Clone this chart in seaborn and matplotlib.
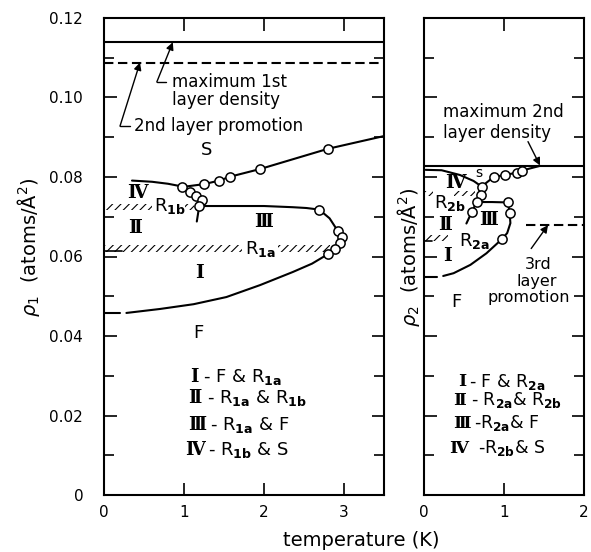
import matplotlib
matplotlib.use("Agg")
import matplotlib.pyplot as plt
import seaborn as sns

# ---------------- data: first layer (left panel) ----------------
max1_rho = 0.1139          # maximum 1st layer density
promo2_rho = 0.1088        # 2nd layer promotion
T1_IV_top = [0.35, 0.60, 0.80, 0.98]
rho1_IV_top = [0.0791, 0.0788, 0.0783, 0.0776]
T1_S = [1.02, 1.25, 1.44, 1.58, 1.95, 2.80, 3.50]
rho1_S = [0.0776, 0.0782, 0.0791, 0.0801, 0.0820, 0.0871, 0.0903]
T1_R1b = [1.19, 1.16]
rho1_R1b = [0.0726, 0.0688]
T1_III = [1.19, 1.60, 2.00, 2.36, 2.53, 2.69, 2.82, 2.92, 2.98, 2.95, 2.89,
          2.80, 2.60, 2.36, 1.95, 1.53, 1.12, 0.70, 0.28]
rho1_III = [0.0727, 0.0727, 0.0727, 0.0724, 0.0722, 0.0718, 0.0696, 0.0665,
            0.0649, 0.0634, 0.0620, 0.0606, 0.0582, 0.0561, 0.0528, 0.0498,
            0.0480, 0.0468, 0.0458]
T1_F_dash = [0.0, 0.20]
rho1_F_dash = [0.0458, 0.0458]
T1_pts = [0.98, 1.07, 1.15, 1.22, 1.19, 1.25, 1.44, 1.58, 1.95, 2.80,
          2.69, 2.92, 2.98, 2.95, 2.89, 2.80]
rho1_pts = [0.0776, 0.0763, 0.0752, 0.0741, 0.0726, 0.0782, 0.0791, 0.0801,
            0.0820, 0.0871, 0.0718, 0.0665, 0.0649, 0.0634, 0.0620, 0.0606]
R1b_hatch = [(0.0, 0.60), (1.01, 1.12)]
R1b_rho = (0.0716, 0.0733)
R1a_hatch = [(0.0, 1.73), (2.18, 2.83)]
R1a_rho = (0.0612, 0.0629)
R1a_base_T = [0.0, 0.22]
R1a_base_rho = [0.0614, 0.0614]

# ---------------- data: second layer (right panel) ----------------
max2_rho = 0.0828
promo3_T = [1.27, 2.0]
promo3_rho = [0.0679, 0.0679]
T2_IV_top = [0.02, 0.22, 0.45, 0.62, 0.72]
rho2_IV_top = [0.0818, 0.0817, 0.0805, 0.0790, 0.0776]
T2_S = [0.72, 0.87, 1.01, 1.16, 1.22, 1.45]
rho2_S = [0.0776, 0.0800, 0.0805, 0.0811, 0.0816, 0.0828]
T2_R2b = [0.72, 0.71, 0.66, 0.60, 0.53]
rho2_R2b = [0.0776, 0.0755, 0.0738, 0.0713, 0.0683]
T2_III = [0.66, 0.85, 1.05, 1.07, 1.08, 1.04, 0.97, 0.78, 0.58, 0.37, 0.24]
rho2_III = [0.0737, 0.0737, 0.0736, 0.0710, 0.0684, 0.0659, 0.0643, 0.0608,
            0.0579, 0.0558, 0.0551]
T2_F_dash = [0.0, 0.16]
rho2_F_dash = [0.0549, 0.0549]
T2_pts = [0.72, 0.71, 0.66, 0.60, 0.87, 1.01, 1.16, 1.22, 1.05, 1.07, 0.97]
rho2_pts = [0.0776, 0.0755, 0.0738, 0.0713, 0.0800, 0.0805, 0.0811, 0.0816,
            0.0736, 0.0710, 0.0643]
R2b_hatch = [(0.01, 0.11), (0.37, 0.64)]
R2b_rho = (0.0751, 0.0766)
R2a_hatch = [(0.01, 0.30)]
R2a_rho = (0.0640, 0.0654)
R2a_base_T = [0.0, 0.10]
R2a_base_rho = [0.0640, 0.0640]

y_major = [0, 0.02, 0.04, 0.06, 0.08, 0.10, 0.12]
y_major_labels = ["0", "0.02", "0.04", "0.06", "0.08", "0.10", "0.12"]
y_minor = [0.01, 0.03, 0.05, 0.07, 0.09, 0.11]
x1_ticks = [0, 1, 2, 3]
x2_ticks = [0, 1, 2]

# ---------------- figure ----------------
sns.set_theme(style="ticks")
plt.rcParams["font.family"] = ["DejaVu Sans"]
plt.rcParams["mathtext.fontset"] = "dejavusans"
plt.rcParams["hatch.linewidth"] = 0.8
plt.rcParams["hatch.color"] = "black"
for k in ("text.color", "axes.labelcolor", "xtick.color", "ytick.color",
          "axes.edgecolor"):
    plt.rcParams[k] = "black"

W, H = 591, 552
fig = plt.figure(figsize=(W / 100, H / 100), dpi=100)
bot = 1 - 495 / H
hgt = 477 / H
ax1 = fig.add_axes([104 / W, bot, 280 / W, hgt])
ax2 = fig.add_axes([424 / W, bot, 160 / W, hgt])

LW = 1.5
ROMAN = dict(family=["DejaVu Serif"], fontweight="bold")


def curve(ax, x, y, width=LW, **kw):
    sns.lineplot(x=x, y=y, ax=ax, sort=False, estimator=None, color="black",
                 linewidth=width, legend=False, **kw)


def points(ax, x, y):
    sns.scatterplot(x=x, y=y, ax=ax, s=44, color="white", edgecolor="black",
                    linewidth=1.1, zorder=5, legend=False)


def hatch_band(ax, spans, rr):
    for a, b in spans:
        ax.fill_between([a, b], rr[0], rr[1], facecolor="none",
                        edgecolor="black", hatch="////", linewidth=0)


for ax, xmax in ((ax1, 3.5), (ax2, 2.0)):
    ax.set_xlim(0, xmax)
    ax.set_ylim(0, 0.12)
    for s in ax.spines.values():
        s.set_linewidth(1.5)
        s.set_color("black")
    ax.tick_params(which="both", direction="in", top=True, right=True,
                   width=1.2, colors="black", labelsize=11)
    ax.tick_params(axis="y", pad=15)
    ax.tick_params(axis="x", pad=7)
    ax.tick_params(which="major", length=9)
    ax.tick_params(which="minor", length=7)

ax1.set_xticks(x1_ticks)
ax1.set_xticklabels([str(v) for v in x1_ticks])
ax1.set_yticks(y_major)
ax1.set_yticklabels(y_major_labels)
ax1.set_yticks(y_minor, minor=True)
ax2.set_xticks(x2_ticks)
ax2.set_xticklabels([str(v) for v in x2_ticks])
ax2.set_yticks(y_major)
ax2.set_yticklabels([])
ax2.set_yticks(y_minor, minor=True)

# ---- left panel marks ----
ax1.axhline(max1_rho, color="black", lw=LW)
ax1.axhline(promo2_rho, color="black", lw=LW, ls=(0, (4.5, 2.2)))
curve(ax1, T1_IV_top, rho1_IV_top)
curve(ax1, T1_S, rho1_S)
curve(ax1, T1_R1b, rho1_R1b)
curve(ax1, T1_III, rho1_III)
curve(ax1, T1_F_dash, rho1_F_dash)
curve(ax1, R1a_base_T, R1a_base_rho, width=1.2)
hatch_band(ax1, R1b_hatch, R1b_rho)
hatch_band(ax1, R1a_hatch, R1a_rho)
points(ax1, T1_pts, rho1_pts)

FS = 12
arr = dict(arrowstyle="-|>", lw=1.0, color="black", mutation_scale=11,
           shrinkA=0, shrinkB=0)
ax1.annotate("", xy=(0.86, max1_rho), xytext=(0.66, 0.1039), arrowprops=arr)
ax1.plot([0.66, 0.78], [0.1039, 0.1039], color="black", lw=1.0)
ax1.text(0.85, 0.1040, "maximum 1st", fontsize=FS, va="center", ha="left")
ax1.text(0.85, 0.0994, "layer density", fontsize=FS, va="center", ha="left")
ax1.annotate("", xy=(0.45, promo2_rho), xytext=(0.20, 0.0928), arrowprops=arr)
ax1.plot([0.20, 0.33], [0.0928, 0.0928], color="black", lw=1.0)
ax1.text(0.38, 0.0929, "2nd layer promotion", fontsize=FS, va="center",
         ha="left")

FR = 13
FN = 13.5
ax1.text(1.28, 0.0868, "S", fontsize=FR, ha="center", va="center")
ax1.text(0.42, 0.0759, "Ⅳ", fontsize=FN, ha="center", va="center", **ROMAN)
ax1.text(0.39, 0.0672, "Ⅱ", fontsize=FN, ha="center", va="center", **ROMAN)
ax1.text(2.00, 0.0687, "Ⅲ", fontsize=FN, ha="center", va="center", **ROMAN)
ax1.text(1.20, 0.0558, "Ⅰ", fontsize=FN, ha="center", va="center", **ROMAN)
ax1.text(1.18, 0.0407, "F", fontsize=FR, ha="center", va="center")
ax1.text(0.62, 0.0727, r"R$_{\mathbf{1b}}$", fontsize=FR, ha="left",
         va="center")
ax1.text(1.76, 0.0620, r"R$_{\mathbf{1a}}$", fontsize=FR, ha="left",
         va="center")

leg_num = ["Ⅰ", "Ⅱ", "Ⅲ", "Ⅳ"]
leg1 = [r"- F & R$_{\mathbf{1a}}$",
        r"- R$_{\mathbf{1a}}$ & R$_{\mathbf{1b}}$",
        r"- R$_{\mathbf{1a}}$ & F",
        r"- R$_{\mathbf{1b}}$ & S"]
leg1_num_x = [1.08, 1.05, 1.05, 1.01]
leg1_txt_x = [1.24, 1.29, 1.32, 1.30]
leg1_y = [0.0297, 0.0244, 0.0176, 0.0113]
for n, t, xn, xt, y in zip(leg_num, leg1, leg1_num_x, leg1_txt_x, leg1_y):
    ax1.text(xn, y, n, fontsize=FR, ha="left", va="center", **ROMAN)
    ax1.text(xt, y, t, fontsize=FR, ha="left", va="center")

# ---- right panel marks ----
ax2.axhline(max2_rho, color="black", lw=LW)
curve(ax2, promo3_T, promo3_rho, linestyle=(0, (4.5, 2.2)))
curve(ax2, T2_IV_top, rho2_IV_top)
curve(ax2, T2_S, rho2_S)
curve(ax2, T2_R2b, rho2_R2b)
curve(ax2, T2_III, rho2_III)
curve(ax2, T2_F_dash, rho2_F_dash)
curve(ax2, R2a_base_T, R2a_base_rho, width=1.2)
hatch_band(ax2, R2b_hatch, R2b_rho)
hatch_band(ax2, R2a_hatch, R2a_rho)
points(ax2, T2_pts, rho2_pts)

ax2.annotate("", xy=(1.45, 0.0829), xytext=(1.30, 0.0889), arrowprops=arr)
ax2.text(0.24, 0.0964, "maximum 2nd", fontsize=FS, ha="left", va="center")
ax2.text(0.24, 0.0911, "layer density", fontsize=FS, ha="left", va="center")
ax2.annotate("", xy=(1.55, 0.0679), xytext=(1.34, 0.0620), arrowprops=arr)
F3 = 11.5
ax2.text(1.43, 0.0580, "3rd", fontsize=F3, ha="center", va="center")
ax2.text(1.41, 0.0538, "layer", fontsize=F3, ha="center", va="center")
ax2.text(1.31, 0.0497, "promotion", fontsize=F3, ha="center", va="center")

ax2.text(0.68, 0.0810, "s", fontsize=10, ha="center", va="center")
ax2.text(0.39, 0.0784, "Ⅳ", fontsize=FN, ha="center", va="center", **ROMAN)
ax2.text(0.26, 0.0679, "Ⅱ", fontsize=FN, ha="center", va="center", **ROMAN)
ax2.text(0.81, 0.0692, "Ⅲ", fontsize=FN, ha="center", va="center", **ROMAN)
ax2.text(0.30, 0.0600, "Ⅰ", fontsize=FN, ha="center", va="center", **ROMAN)
ax2.text(0.41, 0.0486, "F", fontsize=FR, ha="center", va="center")
ax2.text(0.13, 0.0734, r"R$_{\mathbf{2b}}$", fontsize=FR, ha="left",
         va="center")
ax2.text(0.44, 0.0640, r"R$_{\mathbf{2a}}$", fontsize=FR, ha="left",
         va="center")

FL2 = 12.5
leg2 = [r"- F & R$_{\mathbf{2a}}$",
        r"- R$_{\mathbf{2a}}$& R$_{\mathbf{2b}}$",
        r"-R$_{\mathbf{2a}}$& F",
        r"-R$_{\mathbf{2b}}$& S"]
leg2_num_x = [0.43, 0.36, 0.36, 0.32]
leg2_txt_x = [0.56, 0.59, 0.63, 0.67]
leg2_y = [0.0285, 0.0238, 0.0181, 0.0118]
for n, t, xn, xt, y in zip(leg_num, leg2, leg2_num_x, leg2_txt_x, leg2_y):
    ax2.text(xn, y, n, fontsize=FL2, ha="left", va="center", **ROMAN)
    ax2.text(xt, y, t, fontsize=FL2, ha="left", va="center")

for ax in (ax1, ax2):
    ax.set_xlabel("")
    ax.set_ylabel("")

fig.text(28 / W, 1 - 247 / H, r"$\rho_1$  (atoms/Å$^2$)", rotation=90,
         ha="center", va="center", fontsize=14)
fig.text(408 / W, 1 - 257 / H, r"$\rho_2$  (atoms/Å$^2$)", rotation=90,
         ha="center", va="center", fontsize=14)
fig.text(361 / W, 1 - 541 / H, "temperature (K)", ha="center", va="center",
         fontsize=14)

fig.savefig("out.png", dpi=100, facecolor="white")
